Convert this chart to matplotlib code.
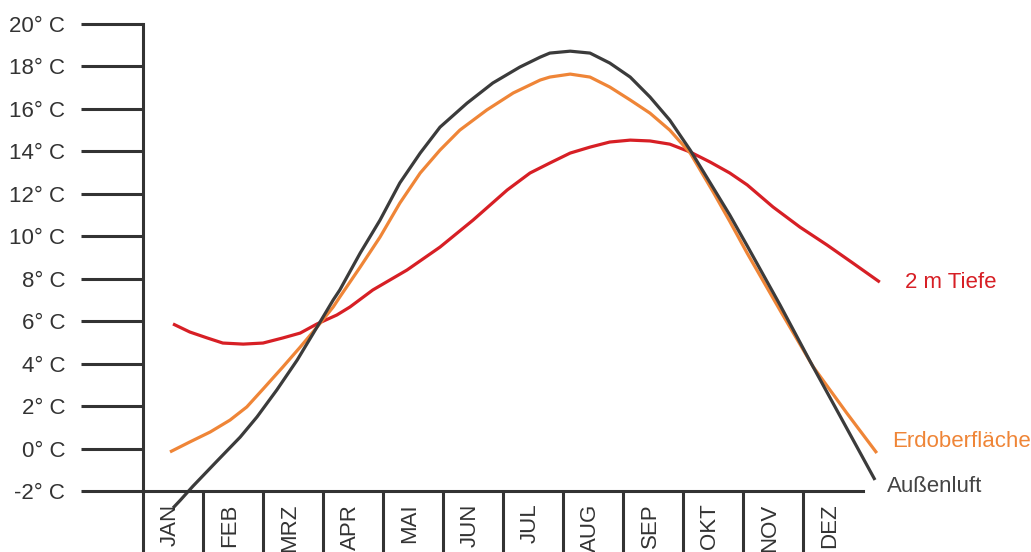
import matplotlib.pyplot as plt
import numpy as np

plt.rcParams["font.family"] = ["Liberation Sans", "DejaVu Sans"]

months = ["JAN", "FEB", "MRZ", "APR", "MAI", "JUN", "JUL", "AUG", "SEP", "OKT", "NOV", "DEZ"]
y_ticks = list(range(-2, 21, 2))
y_labels = ["{}° C".format(t) for t in y_ticks]

# position in months (0 = start of JAN), temperature in °C
luft_x = [0.50, 0.62, 0.83, 1.23, 1.62, 1.90, 2.23, 2.57, 2.90, 3.17, 3.28, 3.62,
          3.95, 4.28, 4.62, 4.95, 5.40, 5.83, 6.28, 6.62, 6.78, 7.12, 7.45, 7.78,
          8.12, 8.45, 8.78, 9.12, 9.50, 9.78, 10.07, 10.62, 11.12, 11.62, 12.20]
luft_t = [-2.80, -2.44, -1.78, -0.60, 0.54, 1.49, 2.76, 4.17, 5.72, 7.00, 7.47, 9.21,
          10.76, 12.51, 13.92, 15.14, 16.27, 17.22, 17.97, 18.44, 18.63, 18.72, 18.63, 18.16,
          17.50, 16.56, 15.47, 14.06, 12.30, 11.00, 9.55, 6.75, 4.10, 1.52, -1.48]

erde_x = [0.45, 0.78, 1.12, 1.45, 1.73, 2.00, 2.33, 2.62, 2.90, 3.17, 3.28, 3.62,
          3.95, 4.28, 4.62, 4.95, 5.28, 5.73, 6.17, 6.62, 6.78, 7.12, 7.45, 7.78,
          8.12, 8.45, 8.78, 9.12, 9.50, 9.78, 10.07, 10.62, 11.17, 11.73, 12.23]
erde_t = [-0.16, 0.31, 0.78, 1.34, 1.96, 2.80, 3.84, 4.78, 5.72, 6.67, 7.14, 8.55,
          9.96, 11.56, 12.98, 14.06, 15.00, 15.95, 16.75, 17.36, 17.50, 17.64, 17.50, 17.03,
          16.42, 15.80, 15.00, 13.92, 12.10, 10.70, 9.20, 6.50, 3.85, 1.67, -0.21]

tiefe_x = [0.50, 0.78, 1.07, 1.33, 1.67, 2.00, 2.33, 2.62, 2.90, 3.23, 3.45, 3.83,
           4.40, 4.95, 5.50, 6.07, 6.45, 6.78, 7.12, 7.45, 7.78, 8.12, 8.45, 8.78,
           9.12, 9.45, 9.78, 10.07, 10.50, 10.95, 11.40, 11.83, 12.28]
tiefe_t = [5.87, 5.49, 5.21, 4.97, 4.92, 4.97, 5.21, 5.44, 5.87, 6.29, 6.67, 7.47,
           8.41, 9.49, 10.76, 12.18, 12.98, 13.45, 13.92, 14.20, 14.44, 14.53, 14.49, 14.34,
           13.97, 13.50, 12.98, 12.42, 11.38, 10.43, 9.59, 8.74, 7.84]

axis_col = "#333333"
red = "#d71f25"
orange = "#ef8537"
dark = "#3b3b3b"

fig = plt.figure(figsize=(10.31, 5.52), dpi=100)
ax = fig.add_axes([143 / 1031, 61 / 552, 720 / 1031, 467 / 552])
ax.set_xlim(0, 12)
ax.set_ylim(-2, 20)

for s in ["top", "right"]:
    ax.spines[s].set_visible(False)
for s in ["left", "bottom"]:
    ax.spines[s].set_linewidth(2.2)
    ax.spines[s].set_color(axis_col)

ax.set_xticks([])
ax.set_yticks(y_ticks)
ax.set_yticklabels(y_labels, fontsize=16, color=axis_col)
ax.tick_params(axis="y", length=45, width=2.2, color=axis_col, pad=11)

# month cells below the axis
ax.vlines(np.arange(12), -2, -5, color=axis_col, lw=2.2, clip_on=False)
for i, m in enumerate(months):
    ax.text(i + 0.45, -2.6, m, rotation=90, ha="center", va="top",
            fontsize=16, color=axis_col, clip_on=False)

lw = 2.3
for xs, ts, c in [(tiefe_x, tiefe_t, red), (erde_x, erde_t, orange), (luft_x, luft_t, dark)]:
    ax.plot(xs, ts, color=c, lw=lw, clip_on=False,
            solid_capstyle="butt", solid_joinstyle="round")

ax.text(12.7, 7.8, "2 m Tiefe", color=red, fontsize=16, va="center", clip_on=False)
ax.text(12.48, 0.31, "Erdoberfläche", color=orange, fontsize=16, va="center", clip_on=False)
ax.text(12.4, -1.81, "Außenluft", color="#444444", fontsize=16, va="center", clip_on=False)

fig.savefig("out.png", dpi=100)
